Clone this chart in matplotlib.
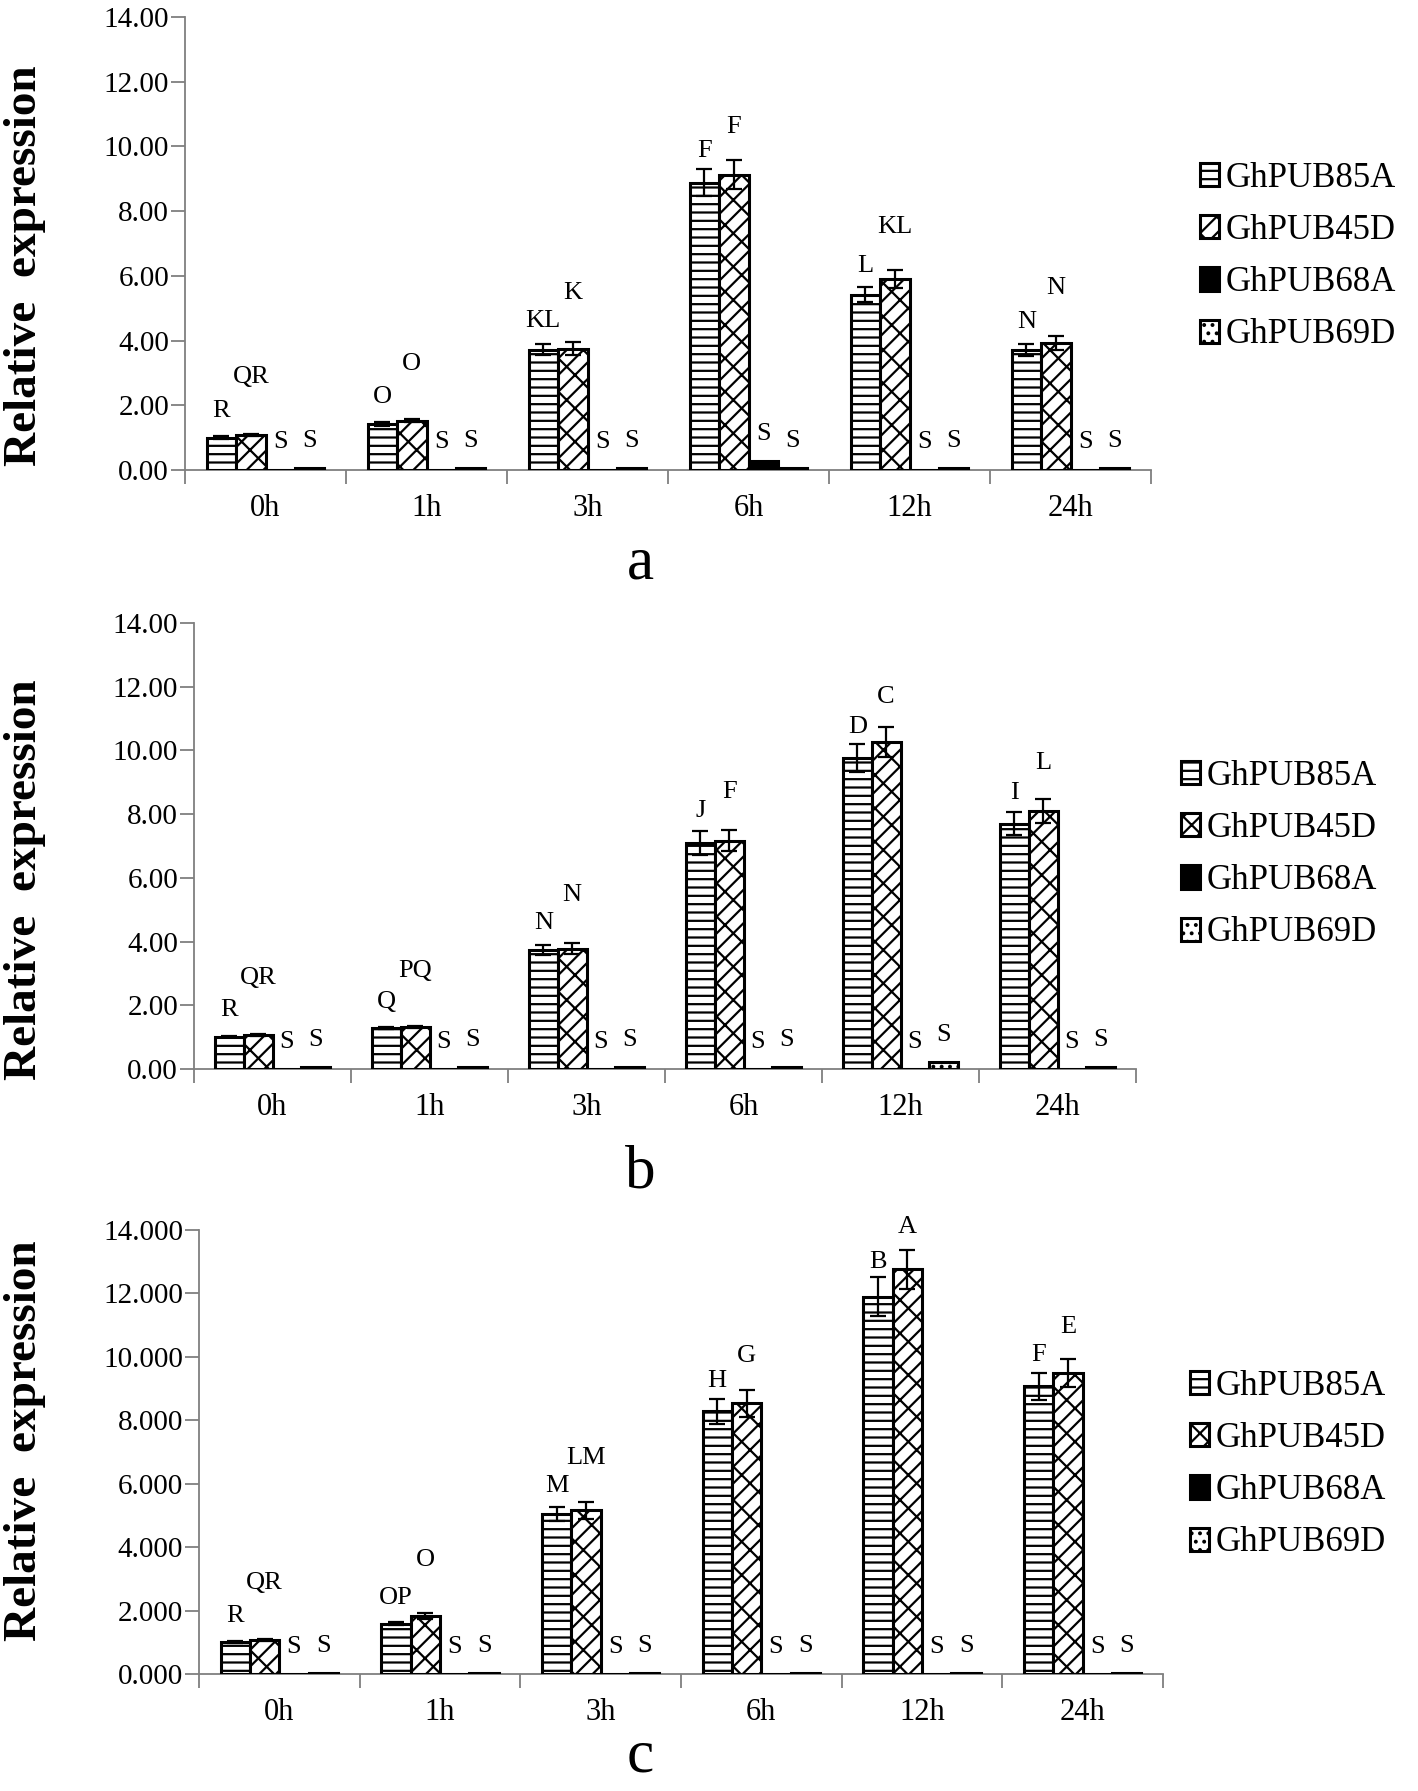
import matplotlib
matplotlib.use('Agg')
import matplotlib.pyplot as plt
from matplotlib.ticker import FixedLocator, FormatStrFormatter

plt.rcParams['font.family'] = ['Liberation Serif', 'DejaVu Serif']
plt.rcParams['hatch.linewidth'] = 1.6

times = ['0h', '1h', '3h', '6h', '12h', '24h']
genes = ['GhPUB85A', 'GhPUB45D', 'GhPUB68A', 'GhPUB69D']

# panel a
a_85A = [1.00, 1.42, 3.72, 8.88, 5.42, 3.70]
a_85A_err = [0.04, 0.05, 0.17, 0.42, 0.23, 0.18]
a_45D = [1.08, 1.52, 3.75, 9.12, 5.91, 3.93]
a_45D_err = [0.04, 0.05, 0.20, 0.45, 0.27, 0.21]
a_68A = [0.0, 0.0, 0.0, 0.27, 0.0, 0.0]
a_69D = [0.06, 0.06, 0.06, 0.06, 0.06, 0.06]
a_let_85A = ['R', 'O', 'KL', 'F', 'L', 'N']
a_let_45D = ['QR', 'O', 'K', 'F', 'KL', 'N']

# panel b
b_85A = [1.02, 1.30, 3.73, 7.10, 9.77, 7.70]
b_85A_err = [0.03, 0.03, 0.16, 0.38, 0.44, 0.36]
b_45D = [1.07, 1.33, 3.78, 7.16, 10.26, 8.09]
b_45D_err = [0.03, 0.03, 0.17, 0.33, 0.48, 0.38]
b_68A = [0.0, 0.0, 0.0, 0.0, 0.0, 0.0]
b_69D = [0.05, 0.05, 0.05, 0.05, 0.21, 0.05]
b_let_85A = ['R', 'Q', 'N', 'J', 'D', 'I']
b_let_45D = ['QR', 'PQ', 'N', 'F', 'C', 'L']

# panel c
c_85A = [1.00, 1.58, 5.05, 8.28, 11.90, 9.07]
c_85A_err = [0.03, 0.05, 0.22, 0.40, 0.62, 0.43]
c_45D = [1.07, 1.82, 5.16, 8.53, 12.76, 9.49]
c_45D_err = [0.03, 0.10, 0.26, 0.42, 0.62, 0.45]
c_68A = [0.0, 0.0, 0.0, 0.0, 0.0, 0.0]
c_69D = [0.03, 0.03, 0.03, 0.03, 0.03, 0.03]
c_let_85A = ['R', 'OP', 'M', 'H', 'B', 'F']
c_let_45D = ['QR', 'O', 'LM', 'G', 'A', 'E']

letter_68A = 'S'
letter_69D = 'S'

W, H = 1418, 1791
fig = plt.figure(figsize=(W / 100, H / 100), dpi=100)

# axes boxes in pixels: left, right, top, bottom
boxes = [(185, 1151, 17, 470), (194, 1136, 623, 1069), (199, 1163, 1230, 1674)]
legend_at = [(1200, 162), (1181, 760), (1190, 1370)]
panel_tag = [('a', 564), ('b', 1173), ('c', 1757)]
ylabel_y = [266, 880, 1441]

styles = [
    dict(facecolor='white', hatch='--'),
    dict(facecolor='white', hatch='/x'),
    dict(facecolor='black', hatch=None),
    dict(facecolor='white', hatch='..'),
]
bw = 0.183


def draw_panel(ax, series, errs, letters, fmt):
    n = len(times)
    xs = [i + 0.5 for i in range(n)]
    for k, vals in enumerate(series):
        pos = [x + (k - 1.5) * bw for x in xs]
        ax.bar(pos, vals, width=bw, edgecolor='black', linewidth=2.2,
               label=genes[k], zorder=2, **styles[k])
        e = errs[k]
        if e is not None:
            ax.errorbar(pos, vals, yerr=e, fmt='none', ecolor='black',
                        elinewidth=1.6, capsize=6, capthick=1.6, zorder=3)
        for i, (p, v) in enumerate(zip(pos, vals)):
            top = v + (e[i] if e is not None else 0)
            if k == 0:
                y = top + 0.82 - 0.03 * v
            elif k == 1:
                y = top + 1.85 - 0.09 * v
            else:
                y = top + 0.85
            ax.text(p, y, letters[k][i], ha='center', va='center', fontsize=19)

    ax.set_xlim(0, n)
    ax.set_ylim(0, 14)
    ax.yaxis.set_major_locator(FixedLocator(range(0, 15, 2)))
    ax.yaxis.set_major_formatter(FormatStrFormatter(fmt))
    ax.set_xticks(xs)
    ax.set_xticklabels(times)
    ax.xaxis.set_minor_locator(FixedLocator(range(n + 1)))
    ax.tick_params(axis='x', which='major', length=0, pad=17, labelsize=22)
    ax.tick_params(axis='x', which='minor', length=10, width=1.3, color='#7f7f7f', direction='out')
    ax.tick_params(axis='y', length=10, width=1.3, color='#7f7f7f', pad=1.5, labelsize=21)
    for s in ['top', 'right']:
        ax.spines[s].set_visible(False)
    for s in ['left', 'bottom']:
        ax.spines[s].set_color('#7f7f7f')
        ax.spines[s].set_linewidth(1.3)
        ax.spines[s].set_zorder(1)


panels = [
    ([a_85A, a_45D, a_68A, a_69D], [a_85A_err, a_45D_err, None, None],
     [a_let_85A, a_let_45D, [letter_68A] * 6, [letter_69D] * 6], '%.2f'),
    ([b_85A, b_45D, b_68A, b_69D], [b_85A_err, b_45D_err, None, None],
     [b_let_85A, b_let_45D, [letter_68A] * 6, [letter_69D] * 6], '%.2f'),
    ([c_85A, c_45D, c_68A, c_69D], [c_85A_err, c_45D_err, None, None],
     [c_let_85A, c_let_45D, [letter_68A] * 6, [letter_69D] * 6], '%.3f'),
]

for (l, r, t, b), (series, errs, letters, fmt), (lx, ly), (tag, ty), yl in zip(
        boxes, panels, legend_at, panel_tag, ylabel_y):
    ax = fig.add_axes([l / W, 1 - b / H, (r - l) / W, (b - t) / H])
    draw_panel(ax, series, errs, letters, fmt)
    ax.legend(loc='upper left', bbox_to_anchor=(lx / W, 1 - ly / H),
              bbox_transform=fig.transFigure, frameon=False, fontsize=25,
              handlelength=0.55, handleheight=0.65, handletextpad=0.2,
              labelspacing=0.55, borderpad=0, borderaxespad=0)
    fig.text(25 / W, 1 - yl / H, 'Relative  expression', rotation=90,
             ha='center', va='center', fontsize=34, fontweight='bold')
    fig.text(640 / W, 1 - ty / H, tag, ha='center', va='center', fontsize=44)

fig.savefig('out.png', dpi=100)
